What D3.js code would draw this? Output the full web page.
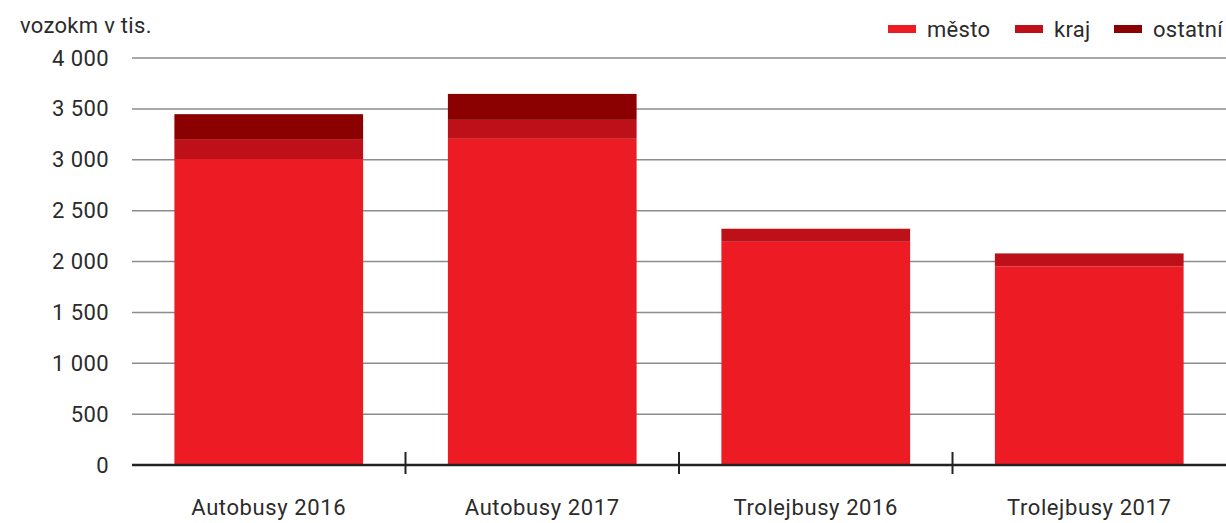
<!DOCTYPE html>
<html>
<head>
<meta charset="utf-8">
<script src="https://cdn.jsdelivr.net/npm/d3@7"></script>
<style>
  body { margin: 0; background: #fff; }
  text { font-family: Roboto, "Noto Sans", sans-serif; fill: #2b2b2b; }
</style>
</head>
<body>
<script>
// data
var categories = ["Autobusy 2016", "Autobusy 2017", "Trolejbusy 2016", "Trolejbusy 2017"];
var mesto = [3007, 3206, 2194, 1951];
var kraj = [196, 186, 128, 123];
var ostatni = [245, 255, 0, 5];
var seriesNames = ["město", "kraj", "ostatní"];
var yTicks = [0, 500, 1000, 1500, 2000, 2500, 3000, 3500, 4000];

var colors = ["#ed1c24", "#be1019", "#8b0000"];

var widthSvg = 1226;
var heightSvg = 523;
var plotLeft = 132;
var plotRight = 1226;
var plotTop = 58;
var plotBottom = 465;

var rows = categories.map(function(c, i) {
  return { cat: c, "město": mesto[i], "kraj": kraj[i], "ostatní": ostatni[i] };
});
var stacked = d3.stack().keys(seriesNames)(rows);

var svg = d3.select("body")
  .append("svg")
  .attr("width", widthSvg)
  .attr("height", heightSvg);

var y = d3.scaleLinear().domain([0, 4000]).range([plotBottom, plotTop]);
var x = d3.scaleBand()
  .domain(categories)
  .range([plotLeft, plotRight])
  .paddingInner(0.31)
  .paddingOuter(0.155);

// gridlines
svg.append("g")
  .selectAll("line")
  .data(yTicks.filter(function(t) { return t > 0; }))
  .enter()
  .append("line")
  .attr("x1", plotLeft)
  .attr("x2", plotRight)
  .attr("y1", function(d) { return y(d); })
  .attr("y2", function(d) { return y(d); })
  .attr("stroke", "#8c8c8c")
  .attr("stroke-width", 1.5);

// y labels
var fmt = function(v) { return d3.format(",")(v).replace(/,/g, " "); };
var yAxis = d3.axisLeft(y).tickValues(yTicks).tickFormat(fmt).tickSize(0).tickPadding(23);
var gy = svg.append("g")
  .attr("transform", "translate(" + plotLeft + ",0)")
  .call(yAxis);
gy.select(".domain").remove();
gy.selectAll("text")
  .attr("font-size", 22)
  .attr("fill", "#2b2b2b")
  .attr("letter-spacing", 0.4)
  .style("font-family", "Roboto, sans-serif");

// stacked bars
svg.append("g")
  .selectAll("g")
  .data(stacked)
  .enter()
  .append("g")
  .attr("fill", function(d, i) { return colors[i]; })
  .selectAll("rect")
  .data(function(d) { return d; })
  .enter()
  .append("rect")
  .attr("x", function(d) { return x(d.data.cat); })
  .attr("y", function(d) { return y(d[1]); })
  .attr("width", x.bandwidth())
  .attr("height", function(d) { return y(d[0]) - y(d[1]); });

// x axis line and separators
svg.append("line")
  .attr("x1", plotLeft)
  .attr("x2", plotRight)
  .attr("y1", plotBottom)
  .attr("y2", plotBottom)
  .attr("stroke", "#222")
  .attr("stroke-width", 2.5);

var step = x.step();
svg.append("g")
  .selectAll("line")
  .data(categories.slice(1))
  .enter()
  .append("line")
  .attr("x1", function(d) { return x(d) - step * x.paddingInner() / 2; })
  .attr("x2", function(d) { return x(d) - step * x.paddingInner() / 2; })
  .attr("y1", plotBottom - 13)
  .attr("y2", plotBottom + 9)
  .attr("stroke", "#222")
  .attr("stroke-width", 2);

// x labels
svg.append("g")
  .selectAll("text")
  .data(categories)
  .enter()
  .append("text")
  .attr("x", function(d) { return x(d) + x.bandwidth() / 2; })
  .attr("y", 515)
  .attr("text-anchor", "middle")
  .attr("font-size", 22)
  .attr("letter-spacing", 0.6)
  .text(function(d) { return d; });

// unit label
svg.append("text")
  .attr("x", 20)
  .attr("y", 33)
  .attr("font-size", 22)
  .attr("letter-spacing", 0.3)
  .text("vozokm v tis.");

// legend
var legendX = [888, 1015, 1114];
var legend = svg.append("g")
  .selectAll("g")
  .data(seriesNames)
  .enter()
  .append("g")
  .attr("transform", function(d, i) { return "translate(" + legendX[i] + ",0)"; });
legend.append("rect")
  .attr("x", 0)
  .attr("y", 25)
  .attr("width", 28)
  .attr("height", 8)
  .attr("fill", function(d, i) { return colors[i]; });
legend.append("text")
  .attr("x", 39)
  .attr("y", 37)
  .attr("font-size", 22)
  .attr("letter-spacing", 0.3)
  .text(function(d) { return d; });
</script>
</body>
</html>
